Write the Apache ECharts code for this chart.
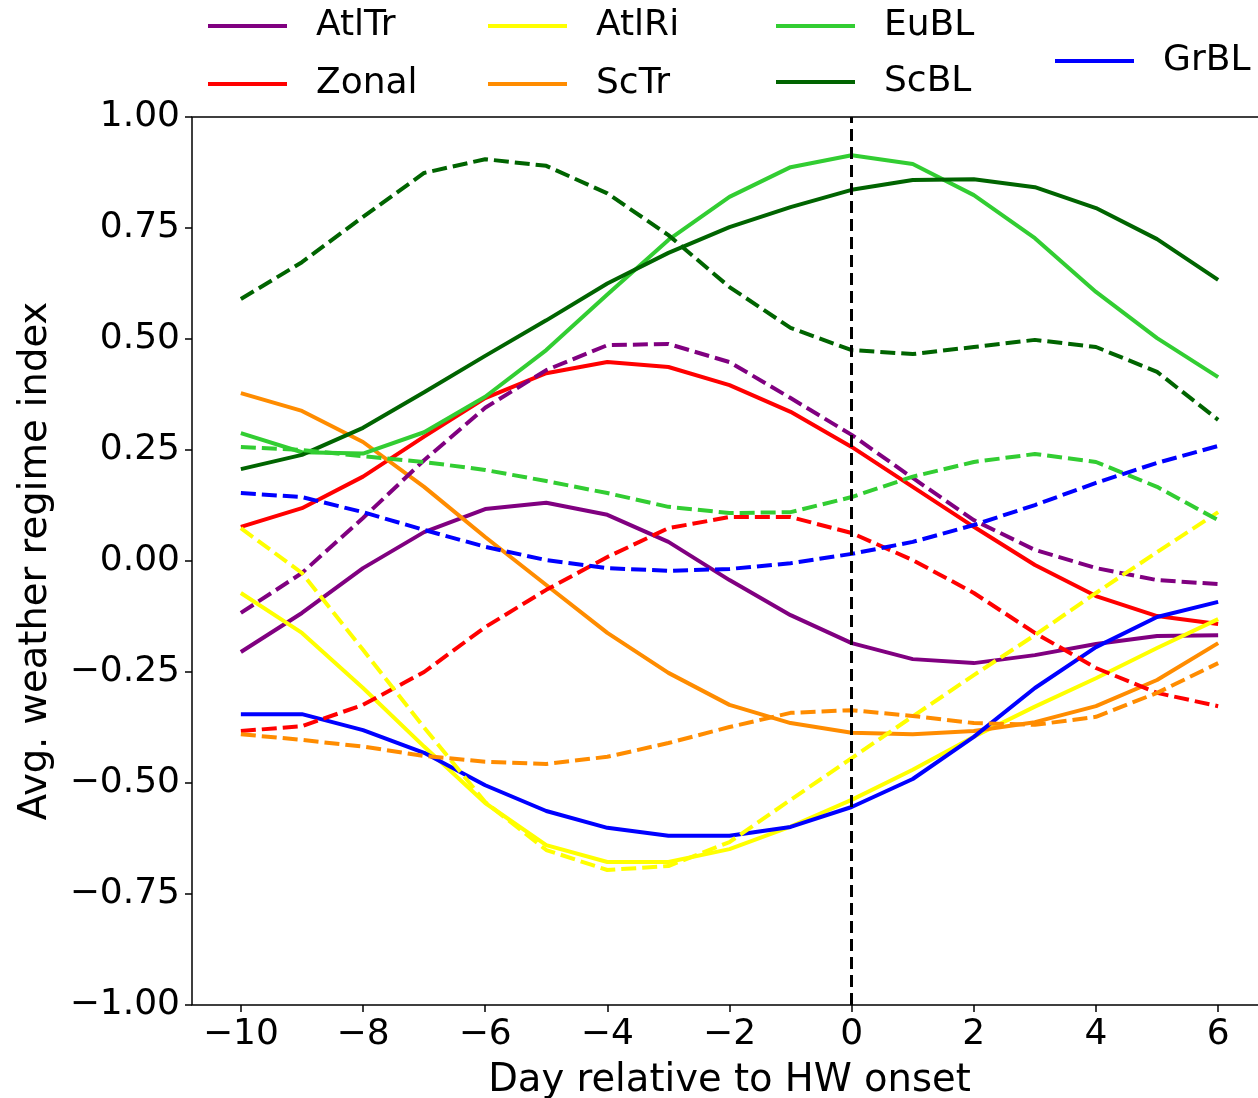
<!DOCTYPE html>
<html>
<head>
<meta charset="utf-8">
<script src="https://cdn.jsdelivr.net/npm/echarts@6/dist/echarts.min.js"></script>
<style>
html,body{margin:0;padding:0;background:#fff;}
#chart{width:1258px;height:1098px;}
</style>
</head>
<body>
<div id="chart"></div>
<script>
const days = [-10,-9,-8,-7,-6,-5,-4,-3,-2,-1,0,1,2,3,4,5,6];
const xTicks = [-10,-8,-6,-4,-2,0,2,4,6];

const atlTr      = [-0.205,-0.117,-0.016,0.065,0.117,0.131,0.104,0.043,-0.043,-0.122,-0.185,-0.221,-0.230,-0.212,-0.187,-0.169,-0.167];
const atlTrDash  = [-0.117,-0.027,0.097,0.227,0.345,0.430,0.486,0.489,0.448,0.367,0.284,0.187,0.092,0.025,-0.016,-0.043,-0.052];
const zonal      = [0.077,0.119,0.190,0.280,0.367,0.423,0.448,0.437,0.396,0.336,0.257,0.167,0.077,-0.009,-0.079,-0.124,-0.142];
const zonalDash  = [-0.383,-0.372,-0.324,-0.250,-0.149,-0.065,0.009,0.074,0.099,0.099,0.063,0.002,-0.072,-0.162,-0.241,-0.297,-0.327];
const atlRi      = [-0.072,-0.162,-0.286,-0.418,-0.545,-0.640,-0.678,-0.678,-0.649,-0.598,-0.538,-0.470,-0.396,-0.328,-0.264,-0.196,-0.131];
const atlRiDash  = [0.074,-0.027,-0.200,-0.375,-0.543,-0.651,-0.696,-0.687,-0.633,-0.538,-0.444,-0.350,-0.257,-0.167,-0.072,0.020,0.110];
const scTr       = [0.378,0.338,0.268,0.167,0.054,-0.054,-0.162,-0.252,-0.324,-0.365,-0.387,-0.390,-0.383,-0.363,-0.327,-0.268,-0.185];
const scTrDash   = [-0.390,-0.403,-0.418,-0.439,-0.452,-0.457,-0.441,-0.410,-0.374,-0.342,-0.336,-0.349,-0.365,-0.369,-0.351,-0.297,-0.230];
const euBL       = [0.288,0.245,0.242,0.290,0.370,0.475,0.600,0.723,0.820,0.887,0.914,0.894,0.824,0.727,0.606,0.502,0.414];
const euBLDash   = [0.257,0.250,0.236,0.223,0.205,0.180,0.153,0.122,0.108,0.110,0.144,0.190,0.223,0.241,0.223,0.167,0.092];
const scBL       = [0.207,0.239,0.300,0.380,0.462,0.542,0.625,0.694,0.752,0.797,0.836,0.858,0.860,0.842,0.795,0.725,0.633];
const scBLDash   = [0.590,0.673,0.775,0.874,0.905,0.890,0.828,0.734,0.617,0.525,0.475,0.466,0.482,0.498,0.482,0.426,0.318];
const grBL       = [-0.345,-0.345,-0.381,-0.432,-0.505,-0.563,-0.601,-0.619,-0.619,-0.599,-0.554,-0.491,-0.396,-0.286,-0.194,-0.126,-0.092];
const grBLDash   = [0.153,0.144,0.110,0.070,0.032,0.002,-0.016,-0.022,-0.018,-0.005,0.016,0.043,0.081,0.126,0.176,0.221,0.259];

const regimes = [
  {name:'AtlTr', color:'#800080', solid:atlTr, dash:atlTrDash},
  {name:'Zonal', color:'#ff0000', solid:zonal, dash:zonalDash},
  {name:'AtlRi', color:'#ffff00', solid:atlRi, dash:atlRiDash},
  {name:'ScTr',  color:'#ff8c00', solid:scTr,  dash:scTrDash},
  {name:'EuBL',  color:'#32cd32', solid:euBL,  dash:euBLDash},
  {name:'ScBL',  color:'#006400', solid:scBL,  dash:scBLDash},
  {name:'GrBL',  color:'#0000ff', solid:grBL,  dash:grBLDash}
];

const FONT = 'DejaVu Sans';
const fmt = v => (v < 0 ? '\u2212' : '') + Math.abs(v);
const fmtY = v => (v < 0 ? '\u2212' : '') + Math.abs(v).toFixed(2);

const series = [];
regimes.forEach(r => {
  series.push({
    name: r.name, type: 'line', symbol: 'none', showSymbol: false,
    data: days.map((d, i) => [d, r.solid[i]]),
    lineStyle: {color: r.color, width: 4}, itemStyle: {color: r.color},
    z: 3
  });
});
regimes.forEach(r => {
  series.push({
    name: r.name + ' (dashed)', type: 'line', symbol: 'none', showSymbol: false,
    data: days.map((d, i) => [d, r.dash[i]]),
    lineStyle: {color: r.color, width: 4, type: [15, 6]}, itemStyle: {color: r.color},
    z: 3
  });
});
series.push({
  name: 'onset', type: 'line', data: [], symbol: 'none',
  markLine: {
    silent: true, symbol: ['none', 'none'], label: {show: false},
    lineStyle: {color: '#000', width: 3, type: [12, 6]},
    data: [{xAxis: 0}]
  },
  z: 4
});

const legendPos = {
  AtlTr: [208, 26], Zonal: [208, 84],
  AtlRi: [488, 26], ScTr: [488, 84],
  EuBL: [776, 26], ScBL: [776, 82],
  GrBL: [1055, 61]
};
const legends = regimes.map(r => ({
  data: [r.name],
  left: legendPos[r.name][0], top: legendPos[r.name][1] - 20,
  padding: 0, icon: 'rect', itemWidth: 79, itemHeight: 4,
  selectedMode: false,
  textStyle: {fontFamily: FONT, fontSize: 36, color: '#000', lineHeight: 40, padding: [0, 0, 0, 24]}
}));

const option = {
  animation: false,
  backgroundColor: '#fff',
  legend: legends,
  grid: {left: 192, top: 117, width: 1075, height: 888, show: true, borderColor: '#000', borderWidth: 1.5,
         containLabel: false, outerBoundsMode: 'none'},
  xAxis: {
    type: 'value', min: -10.8, max: 6.8,
    name: 'Day relative to HW onset', nameLocation: 'middle', nameGap: 56,
    nameTextStyle: {fontFamily: FONT, fontSize: 38.5, color: '#000'},
    axisLine: {show: false, onZero: false},
    axisTick: {show: true, length: 7, lineStyle: {color: '#000', width: 1.5}, customValues: xTicks},
    axisLabel: {fontFamily: FONT, fontSize: 36, color: '#000', margin: 12, formatter: fmt, customValues: xTicks},
    splitLine: {show: false}
  },
  yAxis: {
    type: 'value', min: -1, max: 1, interval: 0.25,
    name: 'Avg. weather regime index', nameLocation: 'middle', nameGap: 137,
    nameTextStyle: {fontFamily: FONT, fontSize: 38.5, color: '#000'},
    axisLine: {show: false, onZero: false},
    axisTick: {show: true, length: 7, lineStyle: {color: '#000', width: 1.5}},
    axisLabel: {fontFamily: FONT, fontSize: 36, color: '#000', margin: 12, formatter: fmtY},
    splitLine: {show: false}
  },
  series: series
};

const chart = echarts.init(document.getElementById('chart'), null, {renderer: 'canvas'});
chart.setOption(option);
</script>
</body>
</html>
